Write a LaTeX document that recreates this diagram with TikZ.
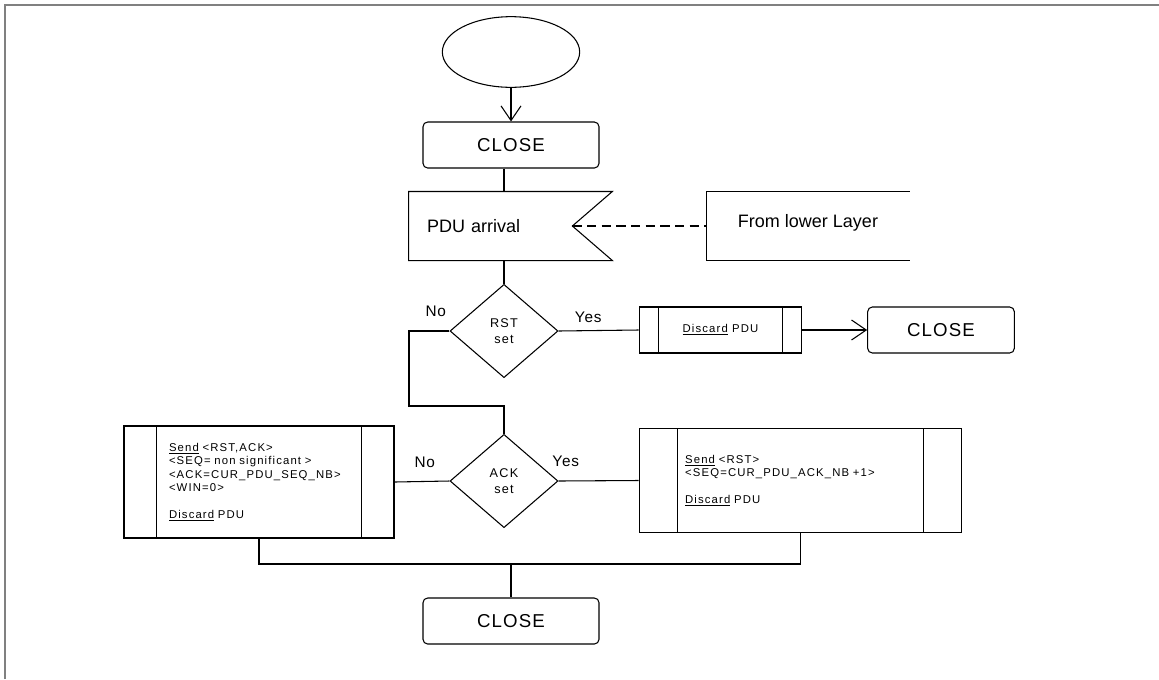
\documentclass[tikz,border=0pt]{standalone}
\usepackage{fontspec}
\setmainfont{Liberation Sans}
\usetikzlibrary{shapes.geometric,arrows.meta}

\tikzset{
  state/.style={draw, rounded corners=3.5pt, minimum width=132pt, minimum height=34.5pt,
    font=\fontsize{14}{16}\selectfont\addfontfeatures{LetterSpace=6}},
  decision/.style={draw, diamond, minimum width=81pt, minimum height=70pt, inner sep=0pt,
    align=center, font=\fontsize{9.5}{12}\selectfont\addfontfeatures{LetterSpace=10}},
  task/.style={draw, inner xsep=0pt, align=left,
    font=\fontsize{8.5}{10}\selectfont\addfontfeatures{LetterSpace=10},
    path picture={
      \draw ([xshift=#1]path picture bounding box.north west) -- ([xshift=#1]path picture bounding box.south west)
            ([xshift=-#1]path picture bounding box.north east) -- ([xshift=-#1]path picture bounding box.south east);
    }},
  answer/.style={font=\fontsize{11.5}{13}\selectfont\addfontfeatures{LetterSpace=5}},
  signal/.style={font=\fontsize{13.5}{16}\selectfont},
  arr/.style={-{Straight Barb[length=11pt,width=15pt]}},
}

\begin{document}
\begin{tikzpicture}[x=0.75pt, y=-0.75pt, line width=0.8pt]
  \useasboundingbox (0,0) rectangle (1159,679);
  \draw[gray, line width=1.5pt] (4.5,679) -- (4.5,4.5) -- (1159,4.5);

  \node[draw, ellipse, minimum width=103pt, minimum height=53pt] (start) at (511,52) {};
  \node[state] (close1) at (511,145) {CLOSE};

  % input signal and its source
  \node[signal, minimum width=152pt, minimum height=51pt, text width=125pt, inner xsep=13.5pt] (pdu) at (510.5,226) {PDU arrival};
  \draw (pdu.north east) -- (pdu.north west) -- (pdu.south west) -- (pdu.south east) -- ([xshift=-30pt]pdu.east) -- cycle;
  \coordinate (tip) at ([xshift=-30pt]pdu.east);
  \node[signal, minimum width=151.5pt, minimum height=51pt] (lower) at (808,223) {From lower Layer};
  \draw ([yshift=-2.25pt]lower.north east) -- ([yshift=-2.25pt]lower.north west) -- ([yshift=-2.25pt]lower.south west) -- ([yshift=-2.25pt]lower.south east);

  \node[decision] (rst) at (504,331) {RST\\set};
  \node[task=14.5pt, minimum width=122pt, minimum height=34.5pt] (disc) at (720.5,330) {\underline{Discard} PDU};
  \node[state, minimum width=110pt] (close2) at (941,330) {CLOSE};

  \node[decision] (ack) at (504,481) {ACK\\set};
  \node[task=24.5pt, minimum width=202.5pt, minimum height=84pt, text width=135pt] (reset) at (259,482) {%
    \underline{Send} <RST,ACK>\\
    <SEQ= non significant >\\
    <ACK=CUR\_PDU\_SEQ\_NB>\\
    <WIN=0>\\[10pt]
    \underline{Discard} PDU};
  \node[task=29pt, minimum width=242pt, minimum height=78pt, text width=173pt] (send) at (800.5,480.5) {%
    \underline{Send} <RST>\\
    <SEQ=CUR\_PDU\_ACK\_NB +1>\\[10pt]
    \underline{Discard} PDU};

  \node[state] (close3) at (511,621) {CLOSE};
  \coordinate (nojoin) at (409,406);
  \coordinate (join) at (511,564);

  \draw[arr] (start) -- (close1);
  \draw (close1.south -| rst.north) -- (pdu.north -| rst.north);
  \draw (pdu.south -| rst.north) -- (rst.north);
  \draw[dash pattern=on 7pt off 4pt] (tip) -- (tip -| lower.west);

  \draw (rst.east) -- (disc.west) node[answer, pos=0.37, above=2pt] {Yes};
  \draw[arr] (disc.east) -- (close2.west);
  \draw (rst.west) -- (rst.west -| nojoin) node[answer, pos=0.34, above=7pt] {No} -- (nojoin) -| (ack.north);

  \draw (ack.east) -- (send.west) node[answer, pos=0.09, above=7pt] {Yes};
  \draw (ack.west) -- (reset.east) node[answer, pos=0.45, above=7pt] {No};

  \draw (reset.south) |- (join) -| (send.south);
  \draw (join) -- (close3.north);
\end{tikzpicture}
\end{document}
